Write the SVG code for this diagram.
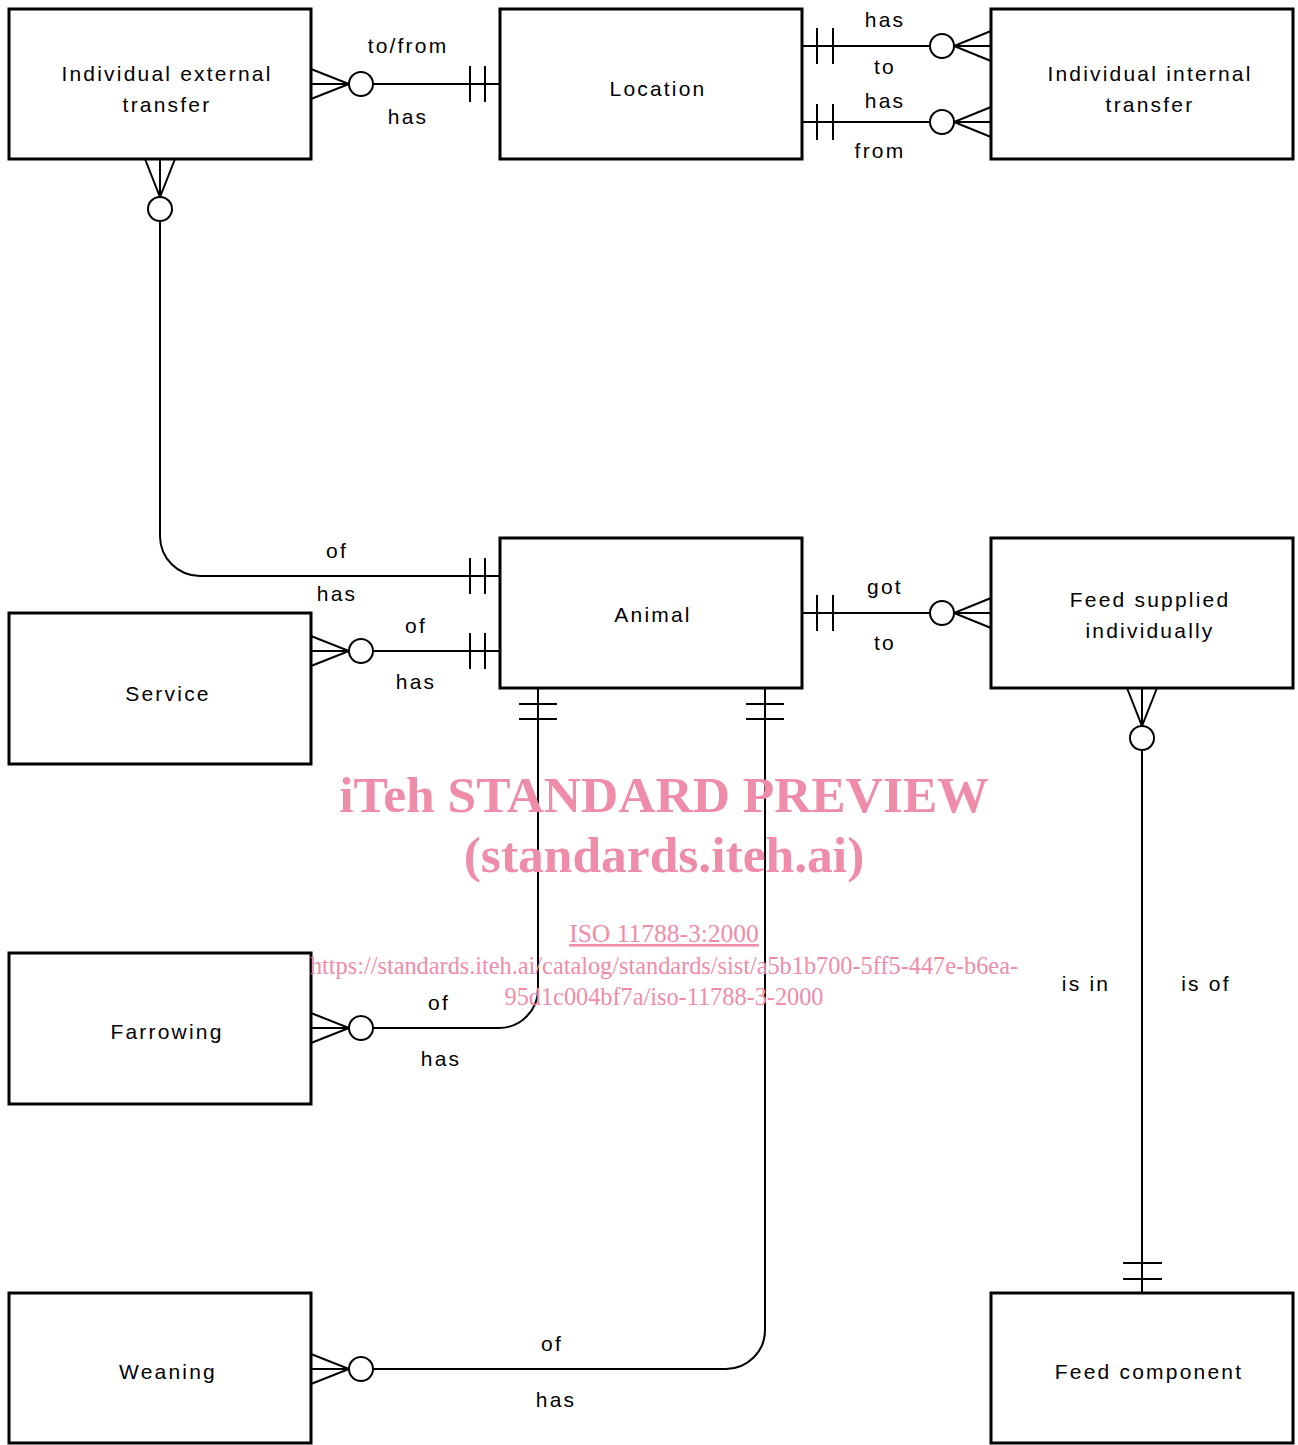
<svg xmlns="http://www.w3.org/2000/svg" width="1298" height="1445" viewBox="0 0 1298 1445">
<style>
.box{fill:#fff;stroke:#000;stroke-width:3}
.ln{fill:none;stroke:#000;stroke-width:2}
.c{fill:#fff;stroke:#000;stroke-width:2}
.t{font-family:"Liberation Sans",Arial,sans-serif;font-size:21px;letter-spacing:2.2px;text-anchor:middle;fill:#000}
.wm{font-family:"Liberation Serif","Times New Roman",serif;fill:#ee8caa;text-anchor:middle}
</style>
<rect width="1298" height="1445" fill="#fff"/>
<g id="connectors">
  <!-- IET - Location -->
  <path class="ln" d="M373,84 H500 M470,66 V102 M485,66 V102 M311,69 L349,84 L311,99 M311,84 H349"/>
  <circle class="c" cx="361" cy="84" r="12"/>
  <text class="t" x="408" y="53">to/from</text>
  <text class="t" x="408" y="124">has</text>
  <!-- Location - IIT top -->
  <path class="ln" d="M802,46 H930 M817,28 V64 M833,28 V64 M991,31 L954,46 L991,61 M954,46 H991"/>
  <circle class="c" cx="942" cy="46" r="12"/>
  <text class="t" x="885" y="27">has</text>
  <text class="t" x="885" y="74">to</text>
  <!-- Location - IIT bottom -->
  <path class="ln" d="M802,122 H930 M817,104 V140 M833,104 V140 M991,107 L954,122 L991,137 M954,122 H991"/>
  <circle class="c" cx="942" cy="122" r="12"/>
  <text class="t" x="885" y="108">has</text>
  <text class="t" x="880" y="158">from</text>
  <!-- IET - Animal -->
  <path class="ln" d="M145,159 L160,197 L175,159 M160,159 V197 M160,221 V536 A40,40 0 0 0 200,576 H500 M470,558 V594 M485,558 V594"/>
  <circle class="c" cx="160" cy="209" r="12"/>
  <text class="t" x="337" y="558">of</text>
  <text class="t" x="337" y="601">has</text>
  <!-- Service - Animal -->
  <path class="ln" d="M373,651 H500 M470,633 V669 M485,633 V669 M311,636 L349,651 L311,666 M311,651 H349"/>
  <circle class="c" cx="361" cy="651" r="12"/>
  <text class="t" x="416" y="633">of</text>
  <text class="t" x="416" y="689">has</text>
  <!-- Animal - Feed supplied -->
  <path class="ln" d="M802,613 H930 M817,595 V631 M833,595 V631 M991,598 L954,613 L991,628 M954,613 H991"/>
  <circle class="c" cx="942" cy="613" r="12"/>
  <text class="t" x="885" y="594">got</text>
  <text class="t" x="885" y="650">to</text>
  <!-- Animal - Farrowing -->
  <path class="ln" d="M538,688 V989 A39,39 0 0 1 499,1028 H373 M519,704 H557 M519,719 H557 M311,1013 L349,1028 L311,1043 M311,1028 H349"/>
  <circle class="c" cx="361" cy="1028" r="12"/>
  <text class="t" x="439" y="1010">of</text>
  <text class="t" x="441" y="1066">has</text>
  <!-- Animal - Weaning -->
  <path class="ln" d="M765,688 V1330 A39,39 0 0 1 726,1369 H373 M746,704 H784 M746,719 H784 M311,1354 L349,1369 L311,1384 M311,1369 H349"/>
  <circle class="c" cx="361" cy="1369" r="12"/>
  <text class="t" x="552" y="1351">of</text>
  <text class="t" x="556" y="1407">has</text>
  <!-- Feed supplied - Feed component -->
  <path class="ln" d="M1127,688 L1142,726 L1157,688 M1142,688 V726 M1142,750 V1293 M1123,1263 H1162 M1123,1279 H1162"/>
  <circle class="c" cx="1142" cy="738" r="12"/>
  <text class="t" x="1086" y="991">is in</text>
  <text class="t" x="1206" y="991">is of</text>
</g>
<g id="iet"><rect class="box" x="9" y="9" width="302" height="150"/><text class="t" x="167" y="81">Individual external</text><text class="t" x="167" y="112">transfer</text></g>
<g id="location"><rect class="box" x="500" y="9" width="302" height="150"/><text class="t" x="658" y="96">Location</text></g>
<g id="iit"><rect class="box" x="991" y="9" width="302" height="150"/><text class="t" x="1150" y="81">Individual internal</text><text class="t" x="1150" y="112">transfer</text></g>
<g id="animal"><rect class="box" x="500" y="538" width="302" height="150"/><text class="t" x="653" y="622">Animal</text></g>
<g id="feedsupplied"><rect class="box" x="991" y="538" width="302" height="150"/><text class="t" x="1150" y="607">Feed supplied</text><text class="t" x="1150" y="638">individually</text></g>
<g id="service"><rect class="box" x="9" y="613" width="302" height="151"/><text class="t" x="168" y="701">Service</text></g>
<g id="farrowing"><rect class="box" x="9" y="953" width="302" height="151"/><text class="t" x="167" y="1039">Farrowing</text></g>
<g id="weaning"><rect class="box" x="9" y="1293" width="302" height="150"/><text class="t" x="168" y="1379">Weaning</text></g>
<g id="feedcomponent"><rect class="box" x="991" y="1293" width="302" height="150"/><text class="t" x="1149" y="1379">Feed component</text></g>
<g id="watermark">
  <text class="wm" x="664" y="812" font-size="51.5" font-weight="bold">iTeh STANDARD PREVIEW</text>
  <text class="wm" x="664" y="872" font-size="51.5" font-weight="bold">(standards.iteh.ai)</text>
  <text class="wm" x="664" y="942" font-size="25.5" text-decoration="underline">ISO 11788-3:2000</text>
  <text class="wm" x="664" y="974" font-size="24.3">https://standards.iteh.ai/catalog/standards/sist/a5b1b700-5ff5-447e-b6ea-</text>
  <text class="wm" x="664" y="1005" font-size="24.3">95d1c004bf7a/iso-11788-3-2000</text>
</g>
</svg>
